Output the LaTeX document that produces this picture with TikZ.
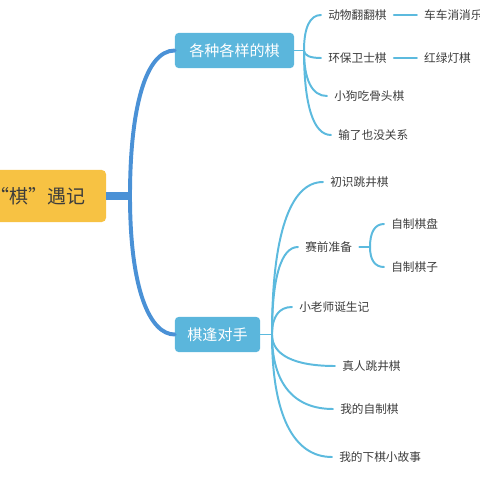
\documentclass[tikz,border=0pt]{standalone}
\usepackage{fontspec}
\setmainfont{Noto Sans CJK SC}
\newfontfamily\rootfont{Noto Sans CJK SC}[RawFeature=+fwid]
\usetikzlibrary{positioning, calc}

\definecolor{rootyellow}{RGB}{247,194,67}
\definecolor{boxblue}{RGB}{91,182,220}
\definecolor{trunkblue}{RGB}{74,145,214}
\definecolor{twigblue}{RGB}{92,186,222}
\definecolor{textgray}{RGB}{60,60,60}

\tikzset{
  rootbox/.style={fill=rootyellow, rounded corners=3pt, minimum width=3.4cm, minimum height=1.3cm,
    text=textgray, font=\rootfont\fontsize{13.5}{16}\selectfont},
  topicbox/.style={fill=boxblue, rounded corners=2.5pt, minimum height=0.875cm,
    text=white, font=\fontsize{10.7}{13}\selectfont},
  leaf/.style={anchor=west, inner xsep=0.175cm, inner ysep=0pt, text=textgray,
    font=\fontsize{8.3}{10}\selectfont},
  trunk/.style={draw=trunkblue, line width=2.8pt},
  twig/.style={draw=twigblue, line width=1.4pt},
}

% curved connector from a junction to the west side of a node
\newcommand{\branchto}[2]{%
  \draw[twig] (#1) .. controls ($(#1)!0.65!(#1 |- #2.west)$) and ($(#2.west)!0.65!(#1 |- #2.west)$) .. (#2.west);}

\begin{document}
\begin{tikzpicture}[x=0.025cm, y=-0.025cm, line cap=round]
  \useasboundingbox (0,0) rectangle (480,480);
  \clip (0,0) rectangle (480,480);

  % central topic and the two main topics
  \node[rootbox] (root) at (38,196) {“棋”遇记};
  \node[topicbox, minimum width=2.975cm] (kinds) at (234.5,50.5) {各种各样的棋};
  \node[topicbox, minimum width=2.125cm] (match) at (217.5,334.5) {棋逢对手};

  \coordinate (stem) at (130,196);
  \draw[trunk, line width=5.7pt, line cap=butt] (root.east) -- (stem);
  \draw[trunk] (stem) .. controls (130,110) and (145,50.5) .. (kinds.west);
  \draw[trunk] (stem) .. controls (130,290) and (150,334.5) .. (match.west);

  % first main topic
  \node[leaf] (flip) at (321,15) {动物翻翻棋};
  \node[leaf] (green) at (321,58) {环保卫士棋};
  \node[leaf] (puppy) at (327,96) {小狗吃骨头棋};
  \node[leaf] (lose) at (331,135) {输了也没关系};
  \node[leaf, right=0.575cm of flip] (cars) {车车消消乐};
  \node[leaf, right=0.575cm of green] (lights) {红绿灯棋};

  \coordinate (j1) at (304,50.5);
  \draw[twig] (kinds.east) -- (j1);
  \branchto{j1}{flip}
  \branchto{j1}{green}
  \branchto{j1}{puppy}
  \branchto{j1}{lose}
  \draw[twig] (flip.east) -- (cars.west);
  \draw[twig] (green.east) -- (lights.west);

  % second main topic
  \node[leaf] (first) at (323,182) {初识跳井棋};
  \node[leaf] (prep) at (298,247) {赛前准备};
  \node[leaf] (teacher) at (292,307) {小老师诞生记};
  \node[leaf] (real) at (335,366) {真人跳井棋};
  \node[leaf] (mine) at (333,409) {我的自制棋};
  \node[leaf] (story) at (332,457) {我的下棋小故事};
  \node[leaf] (board) at (384,224) {自制棋盘};
  \node[leaf] (pieces) at (384,267) {自制棋子};

  \coordinate (j2) at (272,334.5);
  \draw[twig] (match.east) -- (j2);
  \branchto{j2}{first}
  \branchto{j2}{prep}
  \branchto{j2}{teacher}
  \branchto{j2}{real}
  \branchto{j2}{mine}
  \branchto{j2}{story}

  \coordinate (j3) at (370,247);
  \draw[twig] (prep.east) -- (j3);
  \branchto{j3}{board}
  \branchto{j3}{pieces}
\end{tikzpicture}
\end{document}
